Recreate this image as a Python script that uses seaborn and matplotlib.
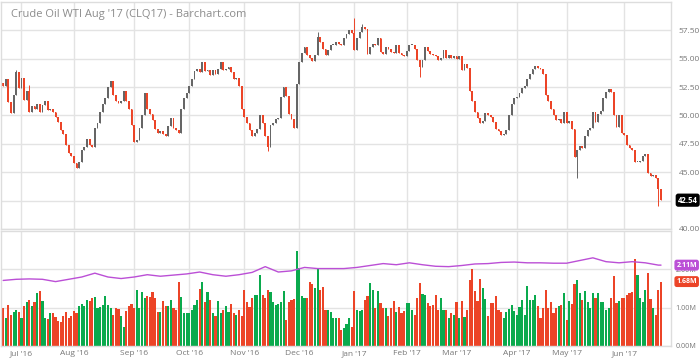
import numpy as np
import pandas as pd
import seaborn as sns

import matplotlib
matplotlib.use("Agg")  # headless mode (no GUI)

import matplotlib.pyplot as plt

sns.set_theme(style="white")
plt.rcParams["font.family"] = ["Open Sans", "DejaVu Sans"]

# trading days of the Aug '17 contract shown on the chart
holidays = ["2016-07-04", "2016-09-05", "2016-11-24", "2016-12-26", "2017-01-02",
            "2017-01-16", "2017-02-20", "2017-04-14", "2017-05-29"]
dates = pd.bdate_range("2016-06-22", "2017-06-21")
dates = dates[~dates.isin(pd.to_datetime(holidays))]

# daily settlement, month by month
close_jun16 = [52.6, 53.2, 51.2, 50.2, 51.8, 53.8, 52.4]
close_jul16 = [53.3, 51.4, 52.2, 50.3, 50.8, 50.6, 51.0, 50.3, 50.9, 51.3,
               50.5, 50.6, 50.3, 49.9, 49.4, 48.7, 48.4, 47.4, 46.7, 46.4]
close_aug16 = [45.8, 45.4, 45.9, 47.0, 47.2, 47.9, 47.4, 47.2, 48.9, 49.3,
               50.3, 51.0, 51.5, 52.5, 53.0, 51.8, 51.3, 51.1, 51.3, 52.2,
               51.3, 50.6, 49.2]
close_sep16 = [47.7, 47.8, 48.9, 50.0, 52.0, 50.6, 50.1, 49.6, 48.8, 48.5,
               48.6, 48.4, 48.2, 49.1, 49.8, 48.9, 48.7, 48.5, 50.6, 51.5, 52.0]
close_oct16 = [52.6, 53.2, 53.9, 54.1, 53.8, 54.7, 53.9, 54.0, 53.6, 54.0,
               53.7, 54.1, 54.7, 54.0, 54.1, 54.3, 53.8, 53.2, 53.3, 52.6, 50.6]
close_nov16 = [49.9, 49.3, 48.7, 48.2, 48.5, 48.8, 50.0, 49.3, 48.2, 47.2,
               49.2, 49.3, 49.7, 49.8, 51.6, 52.5, 51.7, 50.1, 49.7, 48.9, 52.8]
close_dec16 = [54.7, 55.5, 56.0, 55.3, 55.1, 54.8, 55.3, 56.9, 56.5, 55.9,
               55.3, 55.8, 56.2, 56.2, 56.5, 56.3, 56.2, 56.8, 57.2, 57.5, 57.3]
close_jan17 = [55.8, 56.8, 57.4, 57.8, 57.6, 55.4, 56.0, 56.3, 56.2, 56.8,
               55.6, 55.4, 56.0, 55.9, 55.6, 55.5, 56.2, 55.5, 55.3, 55.2]
close_feb17 = [55.7, 56.2, 56.2, 55.9, 54.9, 54.3, 54.9, 56.0, 55.7, 55.4,
               55.3, 55.2, 54.9, 55.1, 55.8, 55.1, 55.3, 55.1, 55.2]
close_mar17 = [55.0, 55.2, 54.0, 54.5, 54.2, 52.2, 51.3, 50.3, 49.8, 49.3,
               49.5, 50.2, 50.0, 49.9, 49.4, 48.8, 48.6, 48.3, 48.4, 48.7,
               50.0, 51.0, 51.5]
close_apr17 = [51.6, 52.0, 52.4, 52.6, 53.2, 53.7, 54.1, 54.4, 54.2, 54.1,
               53.7, 51.8, 51.3, 50.6, 50.0, 49.6, 49.7, 49.3, 50.3]
close_may17 = [49.3, 49.5, 48.8, 46.3, 47.0, 47.3, 47.1, 48.2, 48.7, 48.9,
               50.3, 49.4, 50.1, 50.4, 51.5, 52.1, 52.3, 52.1, 50.0, 49.0,
               50.0, 48.5]
close_jun17 = [48.3, 47.4, 47.1, 47.0, 45.9, 45.9, 46.0, 46.4, 46.6, 44.9,
               44.7, 44.8, 44.5, 43.5, 42.54]
first_open = 52.9

# visible wick extremes (trading-day index: price)
wick_high = {5: 54.0, 10: 52.7, 120: 57.4, 134: 58.6, 137: 58.1}
wick_low = {28: 45.4, 101: 46.9, 159: 53.4, 219: 44.5, 250: 42.0}

# daily volume, millions of contracts
vol_jun16 = [1.00, 0.72, 1.08, 0.80, 0.90, 0.95, 0.90]
vol_jul16 = [0.72, 1.05, 1.15, 1.20, 1.05, 1.15, 1.38, 1.43, 1.18, 0.72,
             0.70, 0.87, 0.87, 0.76, 0.66, 0.62, 0.78, 0.89, 0.72, 0.78]
vol_aug16 = [0.92, 0.85, 1.04, 1.09, 1.04, 1.20, 1.17, 1.24, 1.27, 0.98,
             1.02, 1.06, 1.31, 1.06, 1.00, 0.80, 0.98, 0.97, 0.77, 0.50,
             0.92, 1.05, 1.10]
vol_sep16 = [0.98, 1.45, 1.00, 1.42, 1.24, 1.30, 1.28, 1.42, 1.24, 0.90,
             0.88, 1.17, 1.05, 1.04, 1.20, 0.98, 0.95, 1.67, 1.28, 0.85, 0.85]
vol_oct16 = [0.85, 0.93, 1.06, 1.19, 1.50, 1.67, 1.15, 1.41, 1.19, 0.86,
             0.78, 1.17, 0.86, 0.93, 1.04, 0.89, 1.10, 0.86, 0.81, 0.93, 0.78]
vol_nov16 = [1.47, 1.15, 1.02, 1.24, 1.32, 1.32, 1.84, 1.32, 1.24, 1.45,
             1.41, 1.15, 1.06, 1.09, 1.15, 1.43, 0.69, 1.15, 1.19, 1.22, 2.49]
vol_dec16 = [2.04, 1.30, 1.24, 1.24, 1.67, 1.62, 1.51, 2.00, 1.45, 1.54,
             0.93, 0.93, 0.90, 0.72, 0.72, 0.72, 0.43, 0.48, 0.57, 0.72, 0.50]
vol_jan17 = [1.43, 0.93, 0.91, 0.95, 1.19, 1.31, 1.64, 1.45, 1.00, 1.44,
             1.13, 1.00, 1.00, 0.78, 0.98, 1.18, 0.89, 1.02, 0.85, 0.91]
vol_feb17 = [1.13, 1.12, 0.93, 0.80, 1.24, 1.64, 1.36, 1.32, 1.11, 1.04,
             1.06, 1.32, 0.93, 1.24, 0.93, 0.93, 0.73, 0.87, 0.80]
vol_mar17 = [1.15, 0.73, 1.17, 0.76, 0.93, 1.73, 2.00, 1.43, 1.17, 1.76,
             1.51, 1.22, 0.78, 1.11, 1.13, 1.30, 0.95, 0.89, 0.74, 0.88,
             0.96, 1.06, 0.91]
vol_apr17 = [0.82, 1.02, 1.21, 0.82, 1.56, 1.19, 1.19, 1.32, 1.04, 0.72,
             0.98, 1.47, 1.00, 1.15, 0.85, 1.00, 1.04, 1.06, 1.39]
vol_may17 = [0.68, 1.17, 1.09, 1.62, 1.71, 1.37, 1.21, 1.44, 1.15, 0.98,
             1.38, 1.24, 1.37, 1.15, 1.15, 0.93, 1.00, 1.26, 1.82, 1.12,
             1.18, 1.26]
vol_jun17 = [1.26, 1.34, 1.39, 1.41, 2.28, 1.84, 1.25, 1.15, 1.47, 1.90,
             1.22, 0.98, 0.80, 1.47, 1.68]

# open interest, millions, sampled weekly (every 5th session) plus the last one
open_interest = [1.71, 1.74, 1.75, 1.74, 1.68, 1.74, 1.80, 1.90, 1.80, 1.76,
                 1.80, 1.86, 1.82, 1.85, 1.88, 1.93, 1.86, 1.82, 1.86, 1.92,
                 2.07, 1.93, 1.96, 2.05, 2.02, 2.02, 2.02, 2.05, 2.10, 2.15,
                 2.12, 2.17, 2.12, 2.08, 2.07, 2.10, 2.14, 2.15, 2.18, 2.19,
                 2.17, 2.17, 2.16, 2.16, 2.23, 2.30, 2.20, 2.17, 2.20, 2.17,
                 2.11, 2.11]

price_ticks = [40.0, 42.5, 45.0, 47.5, 50.0, 52.5, 55.0, 57.5]
vol_ticks = [0.0, 1.0, 2.0]

RED = "#ec4427"
GREEN = "#0aaa4d"
CANDLE_UP = "#666666"
PURPLE = "#bb4fd6"
GRID = "#e3e3e3"

closes = np.array(close_jun16 + close_jul16 + close_aug16 + close_sep16 + close_oct16
                  + close_nov16 + close_dec16 + close_jan17 + close_feb17 + close_mar17
                  + close_apr17 + close_may17 + close_jun17)
volume = np.array(vol_jun16 + vol_jul16 + vol_aug16 + vol_sep16 + vol_oct16 + vol_nov16
                  + vol_dec16 + vol_jan17 + vol_feb17 + vol_mar17 + vol_apr17
                  + vol_may17 + vol_jun17)
n = len(dates)
idx = np.arange(n)
opens = np.r_[first_open, closes[:-1]]
up = closes >= opens

df = pd.DataFrame({"day": idx, "open": opens, "close": closes, "volume": volume})
df["top"] = np.maximum(df["open"], df["close"])
df["bottom"] = np.minimum(df["open"], df["close"])
df["high"] = [max(t, wick_high.get(i, t)) for i, t in zip(idx, df["top"])]
df["low"] = [min(b, wick_low.get(i, b)) for i, b in zip(idx, df["bottom"])]

oi = pd.DataFrame({"day": np.r_[np.arange(0, n, 5), n - 1], "oi": open_interest})

# month ticks at the first session of each month
month_first = pd.Series(idx, index=dates).groupby([dates.year, dates.month]).min()
month_first = month_first.iloc[1:]
month_labels = [dates[i].strftime("%b '%y") for i in month_first]

fig = plt.figure(figsize=(7.0, 3.59), dpi=100)
W, H = 700, 359
ax = fig.add_axes([0.5 / W, (H - 229) / H, 671 / W, 227 / H])
axv = fig.add_axes([0.5 / W, (H - 346) / H, 671 / W, 115 / H])

for a in (ax, axv):
    a.set_facecolor("white")
    a.set_xlim(-1, n + 3)
    a.set_xticks(month_first.values)
    a.grid(True, color=GRID, linewidth=1)
    a.yaxis.tick_right()
    a.tick_params(length=0, labelsize=6, colors="#777777", pad=5)
    for s in a.spines.values():
        s.set_color("#dddddd")
        s.set_linewidth(1)
    a.set_axisbelow(True)

# candles
colors = np.where(up, CANDLE_UP, RED)
ax.vlines(df["day"], df["low"], df["high"], colors=colors, linewidth=0.7)
body = np.maximum(df["top"] - df["bottom"], 0.08)
ax.bar(df["day"], body, bottom=df["bottom"], width=0.7, color=colors, linewidth=0)
ax.set_ylim(40, 60)
ax.set_yticks(price_ticks)
ax.set_yticklabels([f"{t:.2f}" for t in price_ticks])
ax.set_xticklabels([])
ax.text(0.016, 0.945, "Crude Oil WTI Aug '17 (CLQ17) - Barchart.com", transform=ax.transAxes,
        fontsize=8.0, color="#8c8c8c", va="center", ha="left")

label_box = dict(boxstyle="round,pad=0.18,rounding_size=0.25")
ax.annotate(f"{closes[-1]:.2f}", xy=(1.0, closes[-1]), xycoords=("axes fraction", "data"),
            xytext=(4.5, 0), textcoords="offset points", fontsize=5.6, color="white",
            fontweight="bold", va="center", ha="left", zorder=10, annotation_clip=False,
            bbox=dict(label_box, fc="black", ec="black"))

# volume and open interest
vol_colors = np.where(up, GREEN, RED)
axv.bar(df["day"], df["volume"], width=0.82, color=vol_colors, linewidth=0)
sns.lineplot(data=oi, x="day", y="oi", ax=axv, color=PURPLE, linewidth=1)
axv.set_ylim(0, 3)
axv.set_yticks(vol_ticks)
axv.set_yticklabels([f"{t:.2f}M" for t in vol_ticks])
axv.tick_params(axis="y", labelsize=5.2, pad=3)
axv.set_xticklabels(month_labels)
axv.tick_params(axis="x", pad=3)
axv.set_xlabel("")
axv.set_ylabel("")
for val, col in ((open_interest[-1], PURPLE), (volume[-1], RED)):
    axv.annotate(f"{val:.2f}M", xy=(1.0, val), xycoords=("axes fraction", "data"),
                 xytext=(3.5, 0), textcoords="offset points", fontsize=5.0, color="white",
                 fontweight="bold", va="center", ha="left", zorder=10, annotation_clip=False,
                 bbox=dict(label_box, fc=col, ec=col))

fig.savefig("out.png", dpi=100)
